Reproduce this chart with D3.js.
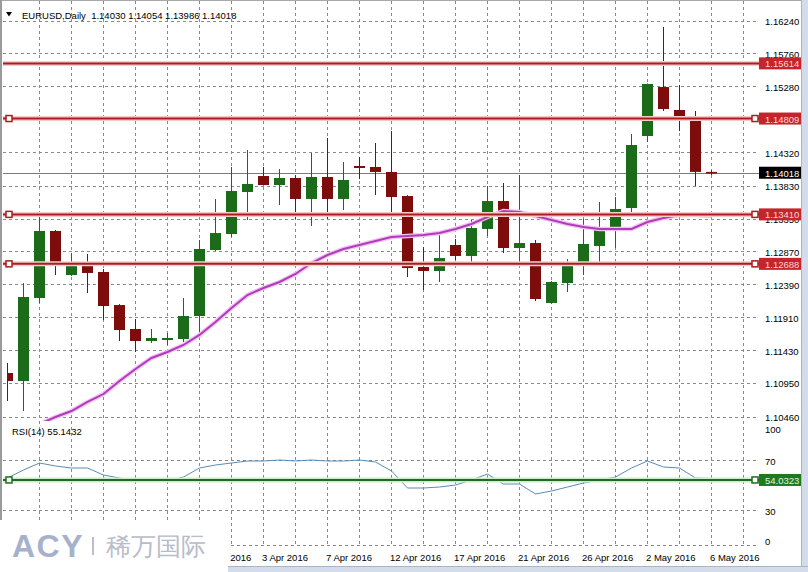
<!DOCTYPE html>
<html><head><meta charset="utf-8">
<script src="https://cdn.jsdelivr.net/npm/d3@7"></script>
<style>
body{margin:0;background:#fff}
svg{display:block}
text{font-family:"Liberation Sans",Arial,sans-serif}
</style>
</head><body>
<svg id="c" width="808" height="572"></svg>
<script>
// ---------------- DATA ----------------
const symbolTitle = "EURUSD,Daily";
const opens  = [1.11095,1.10978,1.12190,1.13168,1.12525,1.12700,1.12569,1.12087,1.11737,1.11562,1.11576,1.11591,1.11927,1.12890,1.13124,1.13737,1.13970,1.13839,1.13941,1.13635,1.13956,1.13635,1.14116,1.14102,1.14029,1.13678,1.12642,1.12584,1.12963,1.12803,1.13197,1.13605,1.12919,1.12992,1.12117,1.12408,1.12657,1.12949,1.13168,1.13503,1.14554,1.15269,1.14934,1.14831,1.14030];
const highs  = [1.11241,1.12408,1.13401,1.13182,1.12846,1.12832,1.12613,1.12100,1.11883,1.11737,1.11679,1.12190,1.13036,1.13635,1.14102,1.14350,1.14102,1.14072,1.13985,1.14306,1.14525,1.14175,1.14248,1.14452,1.14627,1.13690,1.12934,1.13138,1.13051,1.13328,1.13824,1.13868,1.13985,1.13036,1.12438,1.12759,1.13343,1.13591,1.13664,1.14583,1.15320,1.16145,1.15299,1.14919,1.14054];
const lows   = [1.10686,1.10540,1.12117,1.12525,1.12511,1.12262,1.11868,1.11562,1.11401,1.11533,1.11504,1.11547,1.11620,1.12876,1.13080,1.13328,1.13830,1.13547,1.13343,1.13240,1.13343,1.13474,1.13926,1.13693,1.13430,1.12496,1.12306,1.12423,1.12744,1.12700,1.13094,1.12846,1.12671,1.12146,1.12105,1.12277,1.12525,1.12686,1.12919,1.13430,1.14467,1.14919,1.14627,1.13824,1.13986];
const closes = [1.10978,1.12204,1.13168,1.12657,1.12700,1.12555,1.12073,1.11722,1.11562,1.11606,1.11606,1.11927,1.12905,1.13138,1.13751,1.13854,1.13839,1.13941,1.13635,1.13956,1.13635,1.13912,1.14087,1.14029,1.13664,1.12627,1.12584,1.12773,1.12803,1.13211,1.13605,1.12919,1.12992,1.12175,1.12423,1.12671,1.12978,1.13182,1.13489,1.14423,1.15313,1.14948,1.14817,1.14030,1.14018];
const maValues = [null,null,1.10350,1.10453,1.10540,1.10672,1.10788,1.10978,1.11153,1.11314,1.11401,1.11504,1.11650,1.11839,1.12044,1.12233,1.12336,1.12423,1.12540,1.12700,1.12817,1.12905,1.12963,1.13022,1.13080,1.13095,1.13109,1.13138,1.13197,1.13270,1.13372,1.13459,1.13445,1.13387,1.13328,1.13270,1.13226,1.13197,1.13197,1.13197,1.13299,1.13357,1.13401,1.13401,1.13386];
const rsiValues = [55.6,62.0,67.6,65.2,63.6,63.6,58.0,55.6,53.2,53.2,53.2,56.4,63.6,66.0,67.6,69.2,69.2,70.0,69.2,70.0,69.2,69.2,70.0,68.4,61.2,47.6,47.6,48.4,50.0,54.0,58.8,50.8,50.8,42.8,45.2,48.4,51.6,54.0,56.4,63.6,69.2,64.4,63.6,55.6,55.1432];
const rsiLabel = "RSI(14) 55.1432";
const priceTicks = [1.16240,1.15760,1.15280,1.14800,1.14320,1.13830,1.13350,1.12870,1.12390,1.11910,1.11430,1.10950,1.10460];
const rsiTicks = [100,70,30,0];
const rsiGridLevels = [70,30];
const xTickIndex  = [12,16,20,24,28,32,36,40,44];
const xTickLabels = ["29 Mar 2016","3 Apr 2016","7 Apr 2016","12 Apr 2016","17 Apr 2016","21 Apr 2016","26 Apr 2016","2 May 2016","6 May 2016"];
const hLevels  = [1.15614,1.14809,1.13410,1.12688];
const hMarkers = [false,true,true,true];
const rsiLevel = 54.0323;
const bidPrice = 1.14018;

// ---------------- LAYOUT ----------------
const svg = d3.select("#c");
const plotL = 3, plotR = 758, mainBot = 421, rsiBot = 545;
const x  = d3.scaleLinear().domain([0, 46]).range([7.5, 743.5]);
const y  = d3.scaleLinear().domain([1.10460, 1.16240]).range([416.5, 20.5]);
const yr = d3.scaleLinear().domain([30, 70]).range([510, 460]);
const crisp = v => Math.round(v) + 0.5;

const bull = "#1b6b1b", bear = "#7d0c0c", hcol = "#a41f1f";
const gridCol = "#8a8a8a";

const defs = svg.append("defs");
defs.append("clipPath").attr("id","mainClip").append("rect")
  .attr("x", 7).attr("y", 0).attr("width", plotR - 7).attr("height", mainBot);
defs.append("clipPath").attr("id","rsiClip").append("rect")
  .attr("x", 7).attr("y", mainBot).attr("width", plotR - 7).attr("height", rsiBot - mainBot);
defs.append("clipPath").attr("id","xLabClip").append("rect")
  .attr("x", 228).attr("y", 546).attr("width", 580).attr("height", 20);

// frame
svg.append("rect").attr("x",0).attr("y",0).attr("width",808).attr("height",572).attr("fill","#fff");
svg.append("line").attr("x1",0).attr("x2",801).attr("y1",0.5).attr("y2",0.5).attr("stroke","#a8a8a8");
svg.append("rect").attr("x",0).attr("y",0).attr("width",2).attr("height",520).attr("fill","#9a9a9a");

// grid
const grid = svg.append("g");
grid.selectAll("line.h").data(priceTicks).join("line")
  .attr("x1", plotL).attr("x2", plotR)
  .attr("y1", d => crisp(y(d))).attr("y2", d => crisp(y(d)))
  .attr("stroke", gridCol).attr("stroke-dasharray","3,3");
grid.selectAll("line.r").data(rsiGridLevels).join("line")
  .attr("x1", plotL).attr("x2", plotR)
  .attr("y1", d => crisp(yr(d))).attr("y2", d => crisp(yr(d)))
  .attr("stroke", gridCol).attr("stroke-dasharray","3,3");
grid.append("line").attr("x1", plotL).attr("x2", plotR)
  .attr("y1", rsiBot + 0.5).attr("y2", rsiBot + 0.5)
  .attr("stroke", gridCol).attr("stroke-dasharray","3,3");
grid.selectAll("line.v").data(d3.range(2, 47, 2)).join("line")
  .attr("x1", d => crisp(x(d) - 0.5)).attr("x2", d => crisp(x(d) - 0.5))
  .attr("y1", 1).attr("y2", rsiBot)
  .attr("stroke", gridCol).attr("stroke-dasharray","3,3");

// bid line
svg.append("line").attr("x1", plotL).attr("x2", 760)
  .attr("y1", crisp(y(bidPrice))).attr("y2", crisp(y(bidPrice)))
  .attr("stroke", "#7a7a7a");

// candles
const candles = d3.range(opens.length).map(i => ({i, o:opens[i], h:highs[i], l:lows[i], c:closes[i]}));
const cg = svg.append("g").attr("clip-path","url(#mainClip)");
const cs = cg.selectAll("g").data(candles).join("g");
cs.append("line")
  .attr("x1", d => x(d.i)).attr("x2", d => x(d.i))
  .attr("y1", d => y(d.h)).attr("y2", d => y(d.l))
  .attr("stroke", d => d.c >= d.o ? bull : bear).attr("stroke-width", 1);
cs.append("rect")
  .attr("x", d => x(d.i) - 5.5).attr("width", 11)
  .attr("y", d => Math.min(y(d.o), y(d.c)))
  .attr("height", d => Math.max(Math.abs(y(d.o) - y(d.c)), 1.6))
  .attr("fill", d => d.c >= d.o ? bull : bear);

// moving average
const maLine = d3.line().defined(d => d != null).x((d, i) => x(i)).y(d => y(d));
cg.append("path").attr("d", maLine(maValues)).attr("fill","none")
  .attr("stroke","#f2c4f2").attr("stroke-width",4.5);
cg.append("path").attr("d", maLine(maValues)).attr("fill","none")
  .attr("stroke","#b03cbc").attr("stroke-width",2);

// horizontal levels
const hg = svg.append("g");
hLevels.forEach((v, k) => {
  const yy = y(v);
  hg.append("line").attr("x1", plotL).attr("x2", 760).attr("y1", yy).attr("y2", yy)
    .attr("stroke","#f6cccc").attr("stroke-width",5);
  hg.append("line").attr("x1", plotL).attr("x2", 760).attr("y1", yy).attr("y2", yy)
    .attr("stroke", hcol).attr("stroke-width",2);
  if (hMarkers[k]) {
    [9, 755].forEach(mx => hg.append("rect").attr("x", mx - 3).attr("y", yy - 3)
      .attr("width",6).attr("height",6).attr("fill","#fff").attr("stroke",hcol).attr("stroke-width",1.5));
  }
});

// RSI
const rg = svg.append("g").attr("clip-path","url(#rsiClip)");
const rsiPath = d3.line().x((d, i) => x(i)).y(d => yr(d));
svg.append("line").attr("x1", plotL).attr("x2", 760)
  .attr("y1", yr(rsiLevel)).attr("y2", yr(rsiLevel))
  .attr("stroke","#cdeacd").attr("stroke-width",5);
svg.append("line").attr("x1", plotL).attr("x2", 760)
  .attr("y1", yr(rsiLevel)).attr("y2", yr(rsiLevel))
  .attr("stroke","#1f6b1f").attr("stroke-width",2);
rg.append("path").attr("d", rsiPath(rsiValues)).attr("fill","none")
  .attr("stroke","#5a8cb8").attr("stroke-width",1);
[9, 755].forEach(mx => svg.append("rect").attr("x", mx - 3).attr("y", yr(rsiLevel) - 3)
  .attr("width",6).attr("height",6).attr("fill","#fff").attr("stroke","#1f6b1f").attr("stroke-width",1.5));

// header
svg.append("path").attr("d","M6,12 L12,12 L9,16.5 Z").attr("fill","#000");
svg.append("text").attr("x", 22).attr("y", 15).attr("dominant-baseline","central")
  .attr("font-size", 9.5).attr("fill","#000").attr("xml:space","preserve")
  .text(symbolTitle + "  " + [opens, highs, lows, closes].map(a => a[a.length-1].toFixed(5)).join(" "));
svg.append("text").attr("x", 12).attr("y", 431).attr("dominant-baseline","central")
  .attr("font-size", 9.5).attr("fill","#000").text(rsiLabel);

// right axis labels
const ax = svg.append("g").attr("font-size", 9.5).attr("fill","#000");
ax.selectAll("text.p").data(priceTicks.filter(t => !hLevels.some(h => Math.abs(y(h) - y(t)) < 3.5))).join("text")
  .attr("x", 765).attr("y", d => y(d) + 1).attr("dominant-baseline","central").text(d => d.toFixed(5));
ax.selectAll("text.r").data(rsiTicks).join("text")
  .attr("x", 765).attr("y", d => Math.max(429, Math.min(541, yr(d) + 1)))
  .attr("dominant-baseline","central").text(d => d);

// value boxes
function valueBox(yy, txt, bg, fg) {
  svg.append("rect").attr("x", 759).attr("y", yy - 6).attr("width", 43).attr("height", 12).attr("fill", bg);
  svg.append("text").attr("x", 765).attr("y", yy + 0.5).attr("dominant-baseline","central")
    .attr("font-size", 9.5).attr("fill", fg).text(txt);
}
hLevels.forEach(v => valueBox(y(v), v.toFixed(5), "#c4242b", "#ffd4d4"));
valueBox(y(bidPrice), bidPrice.toFixed(5), "#000", "#fff");
valueBox(yr(rsiLevel), rsiLevel.toFixed(4), "#1f7a1f", "#e0f4e0");

// x axis labels
svg.append("g").attr("clip-path","url(#xLabClip)").selectAll("text").data(xTickIndex).join("text")
  .attr("x", d => x(d) - 1.5).attr("y", 557).attr("dominant-baseline","central")
  .attr("font-size", 9.5).attr("fill","#000").text((d, k) => xTickLabels[k]);

// window frame right/bottom
svg.append("rect").attr("x", 801).attr("y", 0).attr("width", 7).attr("height", 572).attr("fill","#d3dcea");
svg.append("line").attr("x1", 801.5).attr("x2", 801.5).attr("y1", 0).attr("y2", 572).attr("stroke","#aab5c6");
svg.append("rect").attr("x", 228).attr("y", 566).attr("width", 580).attr("height", 6).attr("fill","#d3dcea");
svg.append("line").attr("x1", 228).attr("x2", 808).attr("y1", 566.5).attr("y2", 566.5).attr("stroke","#aab5c6");

// logo patch
svg.append("rect").attr("x", 0).attr("y", 520).attr("width", 228).attr("height", 52).attr("fill","#fff");
svg.append("text").attr("x", 12).attr("y", 557).attr("font-family","Lato, Roboto, sans-serif")
  .attr("font-weight", 900).attr("font-size", 32).attr("letter-spacing", 1.5).attr("fill","#a6b2cb").text("ACY");
svg.append("rect").attr("x", 92).attr("y", 537).attr("width", 2).attr("height", 18).attr("fill","#b9c0cc");
svg.append("text").attr("x", 106).attr("y", 555).attr("font-family","'Noto Sans CJK SC', sans-serif")
  .attr("font-weight", 500).attr("font-size", 25).attr("fill","#b6bcc8").text("稀万国际");
</script>
</body></html>
